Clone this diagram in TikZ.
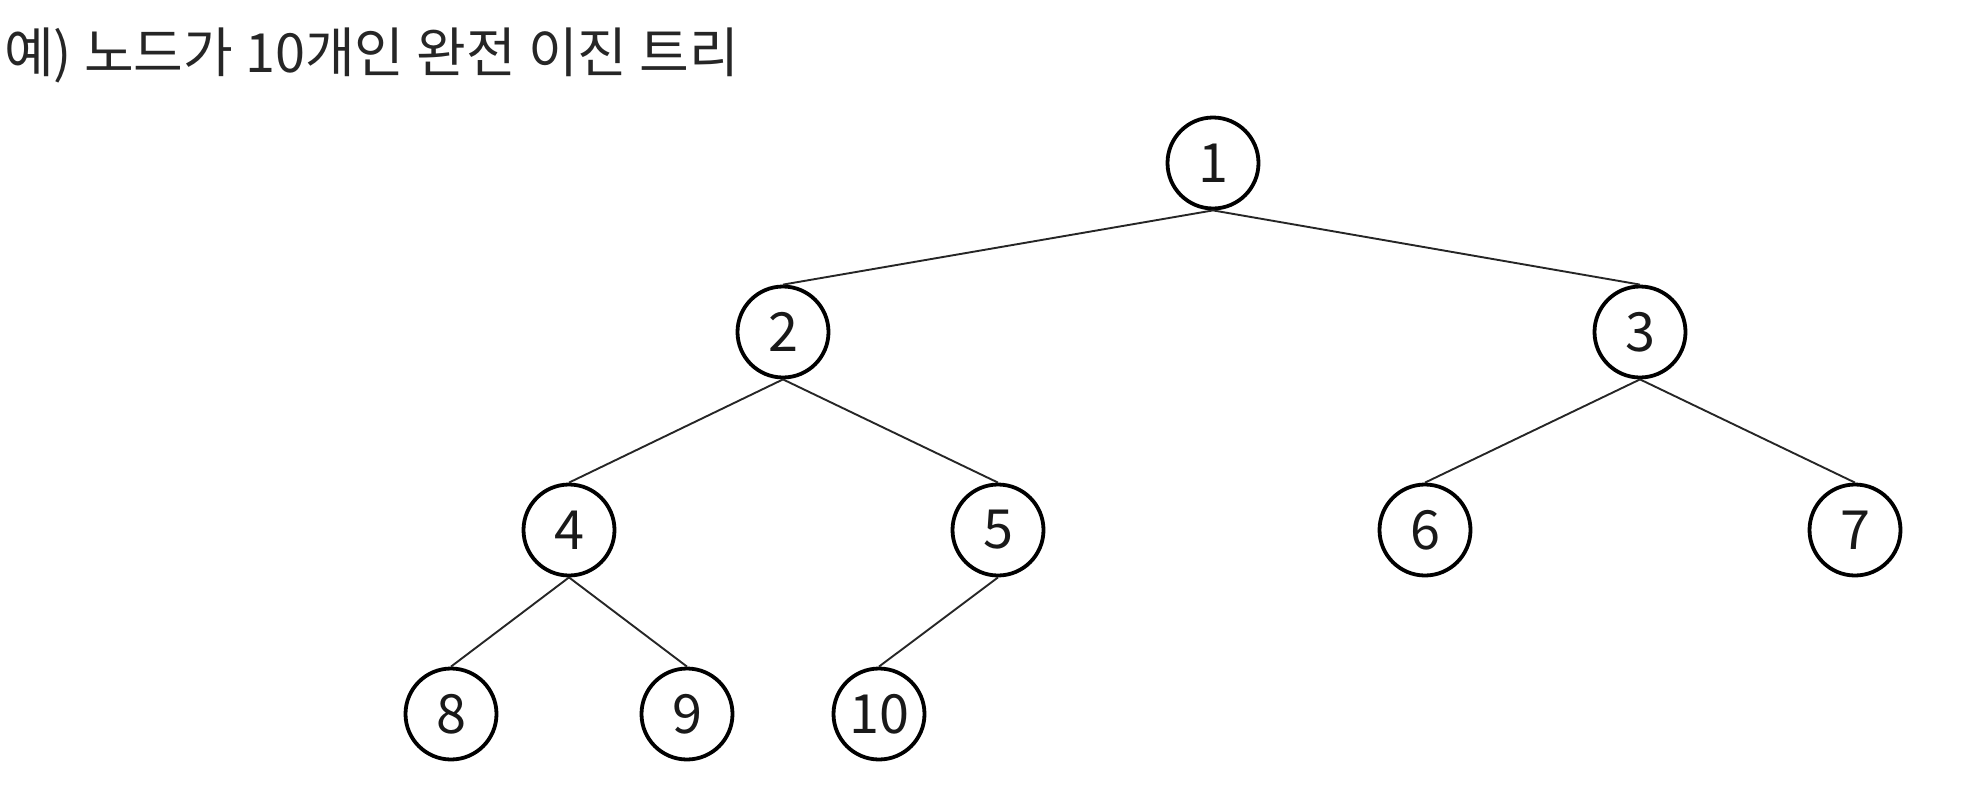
\documentclass[tikz,border=0pt]{standalone}
\usepackage{fontspec}
\setmainfont{Noto Sans CJK KR}
\newfontfamily\krfont{Noto Sans CJK KR}
\begin{document}
\begin{tikzpicture}[x=1pt,y=-1pt,
  treenode/.style={circle,draw=black,line width=3.8pt,minimum size=91pt,inner sep=0pt,
    font=\krfont\fontsize{54}{54}\selectfont,text=black!90},
  edge/.style={draw=black!85,line width=1.9pt}]
\useasboundingbox (0,0) rectangle (1981,806);
\node[anchor=base west,inner sep=0pt,text=black!85,font=\krfont\fontsize{54}{54}\selectfont] (title) at (4,72) {예) 노드가 10개인 완전 이진 트리};
\node[treenode] (n1) at (1213,163) {1};
\node[treenode] (n2) at (783,332) {2};
\node[treenode] (n3) at (1640,332) {3};
\node[treenode] (n4) at (569,530) {4};
\node[treenode] (n5) at (998,530) {5};
\node[treenode] (n6) at (1425,530) {6};
\node[treenode] (n7) at (1855,530) {7};
\node[treenode] (n8) at (451,714) {8};
\node[treenode] (n9) at (687,714) {9};
\node[treenode] (n10) at (879,714) {10};
\draw[edge] (n1.south) -- (n2.north);
\draw[edge] (n1.south) -- (n3.north);
\draw[edge] (n2.south) -- (n4.north);
\draw[edge] (n2.south) -- (n5.north);
\draw[edge] (n3.south) -- (n6.north);
\draw[edge] (n3.south) -- (n7.north);
\draw[edge] (n4.south) -- (n8.north);
\draw[edge] (n4.south) -- (n9.north);
\draw[edge] (n5.south) -- (n10.north);
\end{tikzpicture}
\end{document}
